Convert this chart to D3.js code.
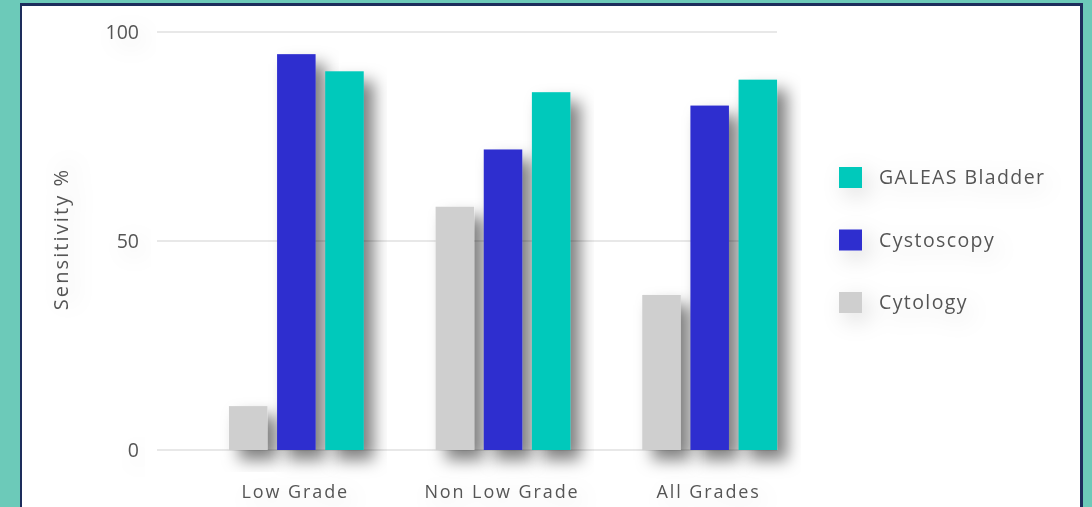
<!DOCTYPE html>
<html>
<head>
<meta charset="utf-8">
<script src="https://cdn.jsdelivr.net/npm/d3@7"></script>
<style>
  html, body { margin: 0; padding: 0; background: #6ccab9; }
  svg { display: block; font-family: "Open Sans", sans-serif; }
</style>
</head>
<body>
<svg id="chart" width="1092" height="507"></svg>
<script>
// data
var groups = ["Low Grade", "Non Low Grade", "All Grades"];
var seriesNames = ["Cytology", "Cystoscopy", "GALEAS Bladder"];
var cytology = [10.5, 58.2, 37.1];
var cystoscopy = [94.7, 71.9, 82.4];
var galeas = [90.6, 85.6, 88.6];
var yTicks = [0, 50, 100];
var legendOrder = ["GALEAS Bladder", "Cystoscopy", "Cytology"];

var colors = { "Cytology": "#cfcfcf", "Cystoscopy": "#2e2ecf", "GALEAS Bladder": "#00c9bb" };
var values = { "Cytology": cytology, "Cystoscopy": cystoscopy, "GALEAS Bladder": galeas };

var svg = d3.select("#chart");

// frame
svg.append("rect").attr("x", 20).attr("y", 3).attr("width", 1063).attr("height", 600).attr("fill", "#1d2d5c");
svg.append("rect").attr("x", 22).attr("y", 6).attr("width", 1058).attr("height", 600).attr("fill", "#ffffff");

var defs = svg.append("defs");
var f = defs.append("filter").attr("id", "barShadow")
    .attr("x", "-60%").attr("y", "-50%").attr("width", "220%").attr("height", "200%");
f.append("feDropShadow").attr("dx", 10).attr("dy", 10).attr("stdDeviation", 8)
    .attr("flood-color", "#000").attr("flood-opacity", 0.5);
var ft = defs.append("filter").attr("id", "textShadow")
    .attr("x", "-50%").attr("y", "-100%").attr("width", "200%").attr("height", "300%");
ft.append("feDropShadow").attr("dx", 6).attr("dy", 7).attr("stdDeviation", 11)
    .attr("flood-color", "#000").attr("flood-opacity", 0.14);

var y = d3.scaleLinear().domain([0, 100]).range([450, 32]);
var x0 = d3.scaleBand().domain(groups).range([193, 813]).paddingInner(0);
var x1 = d3.scaleBand().domain(seriesNames).range([-67.4, 67.4]).paddingInner(0.2);

// grid lines
svg.append("g").selectAll("line").data(yTicks).enter().append("line")
    .attr("x1", 157).attr("x2", 777)
    .attr("y1", function (d) { return y(d); })
    .attr("y2", function (d) { return y(d); })
    .attr("stroke", "#d2d2d2").attr("stroke-width", 1.2);

// y tick labels
svg.append("g").selectAll("text").data(yTicks).enter().append("text")
    .attr("x", 139).attr("y", function (d) { return y(d); })
    .attr("dy", "0.35em").attr("text-anchor", "end")
    .attr("font-size", 19.5).attr("fill", "#555")
    .attr("filter", "url(#textShadow)")
    .text(function (d) { return d; });

// axis title
svg.append("text")
    .attr("transform", "translate(68,239) rotate(-90)")
    .attr("text-anchor", "middle").attr("font-size", 20).attr("fill", "#555")
    .attr("letter-spacing", 2.1)
    .attr("filter", "url(#textShadow)")
    .text("Sensitivity %");

// bars
var g = svg.append("g").selectAll("g").data(groups).enter().append("g")
    .attr("transform", function (d) { return "translate(" + (x0(d) + x0.bandwidth() / 2) + ",0)"; });

g.selectAll("rect")
    .data(function (d, i) { return seriesNames.map(function (s) { return { s: s, v: values[s][i] }; }); })
    .enter().append("rect")
    .attr("x", function (d) { return x1(d.s); })
    .attr("width", x1.bandwidth())
    .attr("y", function (d) { return y(d.v); })
    .attr("height", function (d) { return y(0) - y(d.v); })
    .attr("fill", function (d) { return colors[d.s]; })
    .attr("filter", "url(#barShadow)");

// x labels
svg.append("g").selectAll("text").data(groups).enter().append("text")
    .attr("x", function (d) { return x0(d) + x0.bandwidth() / 2 - 1; })
    .attr("y", 498)
    .attr("text-anchor", "middle").attr("font-size", 18).attr("fill", "#555")
    .attr("letter-spacing", 1.9)
    .attr("filter", "url(#textShadow)")
    .text(function (d) { return d; });

// legend
var leg = svg.append("g").selectAll("g").data(legendOrder).enter().append("g")
    .attr("transform", function (d, i) { return "translate(839," + (177.5 + i * 62.5) + ")"; })
    .attr("filter", "url(#textShadow)");
leg.append("rect").attr("x", 0).attr("y", -10.5).attr("width", 23).attr("height", 21)
    .attr("fill", function (d) { return colors[d]; });
leg.append("text").attr("x", 40).attr("y", 0).attr("dy", "0.35em")
    .attr("font-size", 19.5).attr("fill", "#555")
    .attr("letter-spacing", 1.4)
    .text(function (d) { return d; });
</script>
</body>
</html>
